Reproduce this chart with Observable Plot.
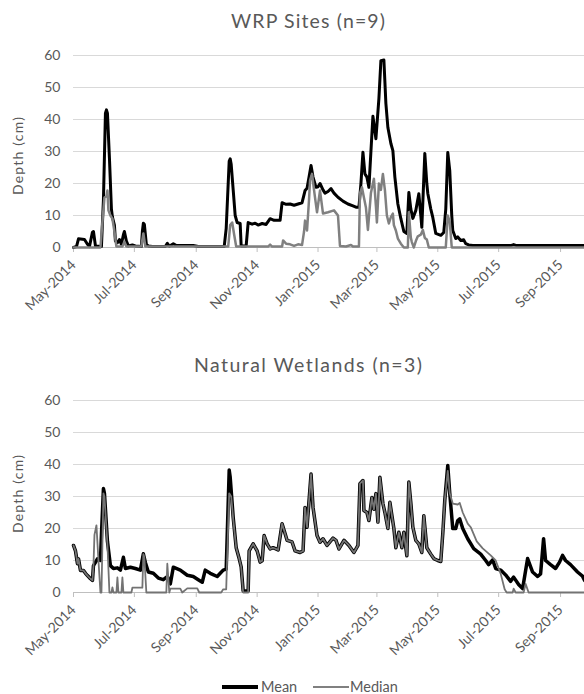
<!DOCTYPE html>
<html>
<head>
<meta charset="utf-8">
<script src="https://cdn.jsdelivr.net/npm/d3@7"></script>
<script src="https://cdn.jsdelivr.net/npm/@observablehq/plot@0.6"></script>
<style>
  body { margin: 0; background: #fff; }
  #wrap { position: relative; width: 584px; height: 694px; overflow: hidden; font-family: Lato, sans-serif; }
  .panel { position: absolute; left: 0; }
  .lg-line { position: absolute; }
  .lg-text { position: absolute; font-size: 14.5px; color: #595959; line-height: 15px; }
</style>
</head>
<body>
<div id="wrap">
  <div id="p1" class="panel" style="top:0px"></div>
  <div id="p2" class="panel" style="top:340px"></div>
  <div class="lg-line" style="left:222px; top:685px; width:36px; height:4px; background:#000"></div>
  <div class="lg-text" style="left:261px; top:679px">Mean</div>
  <div class="lg-line" style="left:313px; top:686px; width:36px; height:2px; background:#808080"></div>
  <div class="lg-text" style="left:350px; top:679px">Median</div>
</div>
<script>
// ---- axis setup ----
const startDate = "2014-05-01";   // day 0 of the series
const endDate = "2015-09-25";
const monthTicks = ["2014-05-01","2014-07-01","2014-09-01","2014-11-01","2015-01-01","2015-03-01","2015-05-01","2015-07-01","2015-09-01"];
const yTicks = [0, 10, 20, 30, 40, 50, 60];
const titles = ["WRP Sites (n=9)", "Natural Wetlands (n=3)"];
const yLabel = "Depth (cm)";
const seriesNames = ["Mean", "Median"];

// ---- WRP sites: mean (days since May 1 2014, depth cm) ----
const wrpMeanDays = [0,3,5,11,14,16,19,20,22,28,30,32,33,34,36,38,39,41,42,44,46,48,50,51,53,55,59,62,68,69,70,71,73,75,79,92,94,96,100,103,112,120,125,151,153,156,157,158,160,162,164,167,168,173,175,179,182,185,189,193,197,201,207,209,213,217,221,225,229,232,234,236,238,240,243,245,247,250,252,255,258,261,265,270,275,280,283,286,288,290,292,294,296,298,300,303,306,308,311,313,315,318,320,322,325,328,331,334,336,338,340,343,346,348,349,352,354,355,358,360,363,368,371,373,375,377,379,380,383,385,388,391,393,396,400,438,441,444,512];
const wrpMeanVals = [0,0.3,2.7,2.5,1.0,0.3,4.8,5,0.5,0.3,15,42,43,42,28,12,9.5,7,2,1.5,2.5,1,4,5,2,0.5,0.8,0.5,0.3,5,7.6,7.2,1,0.5,0.3,0.3,1.3,0.4,1.2,0.6,0.6,0.6,0.3,0.3,6,27,27.7,26,18,10,7.8,7.5,0.5,0.5,7.8,7.3,7.6,7.0,7.5,7.2,9,8.5,8.5,14,13.5,13.6,13.2,13.6,14,17.8,18.5,22,25.6,22,18.8,19,20,18,17,17.5,18.4,17,15.7,14.5,13.6,13,12.6,12.6,20,29.8,23,22,18.8,30,41,34,46.5,58.4,58.6,45,37.5,32.5,30.3,22,13.6,9,5,4.4,17.2,12,9.1,11.6,16.8,10,6.3,29.4,20,16.9,12,9.4,4.4,3.8,4.7,12,29.7,24,10,5.3,2.8,3.3,2.2,2.4,1.2,0.8,0.6,0.6,0.9,0.6,0.6];

// ---- WRP sites: median ----
const wrpMedDays = [0,27,29,31,33,34,35,37,39,41,43,49,51,53,68,70,72,155,157,159,161,163,195,197,199,209,210,213,217,221,225,229,231,232,234,236,237,239,241,242,244,247,250,255,261,265,267,273,278,280,286,287,289,291,293,295,298,301,303,304,306,308,310,312,314,316,318,320,321,323,325,328,331,335,336,338,339,341,343,345,348,350,352,354,356,373,375,377,379,512];
const wrpMedVals = [0,0,8,15.6,16,17.8,11.6,10,9,5,0.3,0.3,1.8,0.3,0.3,4.4,0.3,0.3,7,7.8,4,0.3,0.3,0.9,0.3,0.3,2.2,1.2,1.0,0.5,1,0.8,5,8.4,5.3,15,21,23,18,15.6,11,17.8,10.6,11,11.6,10,0.5,0.3,0.8,0.3,0.3,16.9,18.8,15.6,12.5,5.5,17,21.5,13,7.8,20,18,23,18,10,7.5,9.5,10.6,7,5.3,2.8,1.2,0,0,11,3,1.7,0,2,3.5,4,5.5,3,2.5,0,0,10,8,0,0];

// ---- Natural wetlands: mean ----
const natMeanDays = [0,2,4,5,7,10,12,14,17,19,20,22,24,27,28,30,31,34,37,40,44,47,50,52,57,62,67,70,72,75,80,85,90,94,97,100,107,114,120,125,129,132,137,144,147,150,153,156,157,160,163,166,168,170,175,176,180,184,187,189,191,194,197,200,205,209,214,219,222,227,230,232,234,238,240,244,247,250,254,260,263,266,271,276,281,285,287,290,291,294,296,299,301,303,305,307,310,312,315,317,321,323,326,329,331,334,336,338,340,343,346,349,351,354,358,361,365,368,370,372,375,377,380,383,385,387,390,395,401,408,413,416,420,423,428,433,438,441,446,450,455,460,465,468,471,473,478,483,487,490,493,498,505,510,512];
const natMeanVals = [14.7,13,9,10.5,6.9,6.9,6,5.3,4.3,3.8,8.4,9.4,10.5,10,18,32.5,31,16,8.4,7.5,7.7,7,11,7.5,7.9,7.5,7,12.1,9.4,6.4,6,4.5,4,5,2.7,7.9,7,5.4,5,4,3.2,7,6,5,6,7,7.3,38.3,36,23.5,14,10.6,8,0.5,0.5,13,15.2,13,9.5,9.9,17.8,15.2,13.6,14,13.3,21.5,16.3,15.8,13,12.5,13,26.6,20.4,37,26.6,17.8,15.7,16.8,14.7,17,16.3,13.6,16.3,14.7,12.5,14.7,34,35,25.6,25,22.5,29.7,26,30.9,22,36,27.8,25,20,28.2,20,14,18.8,14,18.8,11.5,34.5,28,20.4,16.3,15.2,12.5,24,14,12,10.6,10,9.7,18.4,28.8,39.7,31,20,20,22.5,23,20,16.8,13.7,12,10,8.7,10.2,7.5,7,5.5,3.5,4.8,2.5,1.2,10.6,6.4,5,5.8,16.8,10,8.7,7.5,9.5,11.6,10,8.7,6.4,5.1,3.8];

// ---- Natural wetlands: median ----
const natMedDays = [0,2,4,5,7,10,12,14,17,19,20,21,23,25,27,28,30,31,34,36,38,39,40,43,44,45,48,49,50,58,59,69,70,71,73,93,94,96,97,107,109,114,124,126,148,150,153,156,158,160,163,166,168,170,175,176,180,184,187,189,191,194,197,200,205,209,214,219,222,227,230,232,234,238,240,244,247,250,254,260,263,266,271,276,281,285,287,290,291,294,296,299,301,303,305,307,310,312,315,317,321,323,326,329,331,334,336,338,340,343,346,349,351,354,358,361,365,368,370,372,375,377,380,385,387,390,395,398,404,410,418,423,428,432,434,440,441,443,451,453,456,512];
const natMedVals = [14.7,13,9,10.5,6.9,6.9,6,5.3,4.3,3.8,8.4,18,21,10,0,0,31,30,15,0,0,1.6,0,0,4.7,0,0,4.7,0,0,1.5,1.5,12,11,0,0,9,0,1.2,1.2,0,1.3,1.3,0,0,1,1,31,30,23,14,10.6,8,0,0,13,15.2,13,9.5,9.9,17.8,15.2,13.6,14,13.3,21.5,16.3,15.8,13,12.5,13,26.6,20.4,37,26.6,17.8,15.7,16.8,14.7,17,16.3,13.6,16.3,14.7,12.5,14.7,34,35,25.6,25,22.5,29.7,26,30.9,22,36,27.8,25,20,28.2,20,14,18.8,14,18.8,11.5,34.5,28,20.4,16.3,15.2,12.5,24,14,12,10.6,10,9.7,18.4,28.8,38,31,27.8,27.5,28,25,21.5,20.4,16,13.8,11.6,10,5.9,1,0,0,1.2,0,0,2.7,0,0];

// ---- build ----
const t0 = new Date(startDate);
const toRows = (days, vals) => days.map((d, i) => ({date: d3.utcDay.offset(t0, d), v: vals[i]}));
const fmt = d3.utcFormat("%b-%Y");

function panel(el, cfg) {
  const chart = Plot.plot({
    width: 584,
    height: cfg.height,
    marginLeft: 73,
    marginRight: 0,
    marginTop: cfg.marginTop,
    marginBottom: cfg.marginBottom,
    style: {fontFamily: "Lato, sans-serif", fontSize: "14px", color: "#595959", background: "transparent", overflow: "visible"},
    x: {type: "utc", domain: [t0, new Date(endDate)]},
    y: {domain: [0, 60]},
    marks: [
      Plot.gridY(yTicks.filter(d => d > 0), {stroke: "#d9d9d9", strokeOpacity: 1}),
      Plot.ruleY([0], {stroke: "#bfbfbf"}),
      Plot.axisX(monthTicks.map(d => new Date(d)), {tickFormat: fmt, tickRotate: -45, tickSize: 5, tickPadding: 10, stroke: "#bfbfbf", fill: "#595959", label: null, fontSize: 14}),
      Plot.axisY(yTicks, {tickSize: 0, tickPadding: 13, label: null, fill: "#595959", fontSize: 14}),
      Plot.line(toRows(cfg.meanDays, cfg.meanVals), {x: "date", y: "v", stroke: "#000", strokeWidth: cfg.meanWidth}),
      Plot.line(toRows(cfg.medDays, cfg.medVals), {x: "date", y: "v", stroke: cfg.medColor, strokeWidth: cfg.medWidth})
    ]
  });
  const svg = d3.select(chart);
  svg.append("text").attr("x", cfg.titleX).attr("y", cfg.titleY).attr("text-anchor", "start")
    .attr("font-size", 19.5).attr("fill", "#595959").attr("font-family", "Lato, sans-serif")
    .attr("textLength", cfg.titleW).attr("lengthAdjust", "spacing").text(cfg.title);
  svg.append("text").attr("transform", `translate(23,${cfg.labelY + 39}) rotate(-90)`).attr("text-anchor", "start")
    .attr("font-size", 14).attr("fill", "#595959").attr("font-family", "Lato, sans-serif")
    .attr("textLength", 78).attr("lengthAdjust", "spacing").text(yLabel);
  document.getElementById(el).appendChild(chart);
}

panel("p1", {height: 330, marginTop: 55, marginBottom: 83, title: titles[0], titleX: 231, titleW: 154, titleY: 28, labelY: 156,
  meanDays: wrpMeanDays, meanVals: wrpMeanVals, medDays: wrpMedDays, medVals: wrpMedVals,
  meanWidth: 3, medWidth: 2.5, medColor: "#808080"});
panel("p2", {height: 338, marginTop: 60, marginBottom: 86, title: titles[1], titleX: 194, titleW: 228, titleY: 32, labelY: 154,
  meanDays: natMeanDays, meanVals: natMeanVals, medDays: natMedDays, medVals: natMedVals,
  meanWidth: 3.5, medWidth: 1.8, medColor: "#737373"});
</script>
</body>
</html>
